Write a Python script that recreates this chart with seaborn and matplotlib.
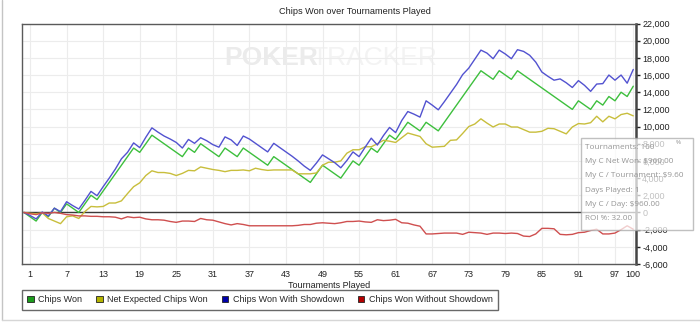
import matplotlib
matplotlib.use("Agg")
import matplotlib.pyplot as plt
import pandas as pd
import seaborn as sns
from matplotlib.patches import Patch, FancyBboxPatch
from matplotlib.lines import Line2D
from matplotlib.ticker import FuncFormatter

# ---- data -------------------------------------------------------------
tournaments = list(range(0, 101))

chips_won = [
    0, -500, -1000, 0, -500, 500, 0, 1000, 500, 0,
    1000, 2000, 1500, 2500, 3500, 4500, 5500, 6500, 7500, 7000,
    8000, 9000, 8500, 8000, 7500, 7000, 6500, 7500, 7000, 8000,
    7500, 7000, 6500, 7500, 7000, 6500, 7500, 7000, 6500, 6000,
    5500, 6500, 6000, 5500, 5000, 4500, 4000, 3500, 4500, 5500,
    5000, 4500, 4000, 5000, 6000, 5500, 6500, 7500, 7000, 8000,
    9000, 8500, 9500, 10500, 10000, 9500, 10500, 10000, 9500, 10500,
    11500, 12500, 13500, 14500, 15500, 16500, 16000, 15500, 16500, 16000,
    15500, 16500, 16000, 15500, 15000, 14500, 14000, 13500, 13000, 12500,
    12000, 13000, 12500, 12000, 13000, 12500, 13500, 13000, 14000, 13500,
    14700,
]

net_expected = [
    0, -100, -150, -50, -700, -1000, -1300, -500, -400, -700,
    100, 700, 650, 700, 1100, 1100, 1350, 2200, 3000, 3450,
    4300, 4850, 4650, 4650, 4550, 4300, 4550, 4900, 4850, 5300,
    5150, 5000, 4900, 4750, 4900, 4900, 4950, 4850, 5150, 5000,
    4900, 4950, 4950, 4950, 4950, 4500, 4500, 4500, 4600, 5500,
    5850, 5850, 6000, 6900, 7300, 7300, 7650, 7650, 8000, 8400,
    8300, 8150, 8700, 9250, 9050, 8850, 8000, 7600, 7650, 7700,
    8400, 8450, 9200, 10000, 10300, 10900, 10400, 9950, 10300, 10300,
    9950, 9950, 9650, 9350, 9350, 9450, 9800, 9750, 9450, 9150,
    9950, 10350, 10300, 10450, 11200, 10550, 11200, 10900, 11400, 11550,
    11250,
]

won_showdown = [
    0, -350, -750, 50, -400, 500, 100, 1250, 800, 400,
    1400, 2450, 1950, 3000, 4000, 5050, 6250, 7000, 8100, 7550,
    8750, 9850, 9350, 8900, 8550, 8150, 7500, 8500, 8050, 8700,
    8350, 7900, 7600, 8800, 8450, 7800, 8900, 8550, 8050, 7550,
    7050, 8050, 7550, 7050, 6550, 6000, 5400, 4900, 5750, 6700,
    6250, 5800, 5200, 6050, 7050, 6500, 7600, 8650, 7850, 8950,
    9900, 9300, 10700, 11750, 11450, 11100, 13000, 12500, 11950, 12900,
    13900, 14900, 16050, 16800, 17850, 18900, 18550, 17900, 18900, 18450,
    17900, 18950, 18750, 18300, 17500, 16350, 15850, 15400, 15550, 15100,
    14550, 15350, 14800, 14100, 14950, 15000, 16000, 15400, 16000, 15050,
    16650,
]

won_no_showdown = [
    0, -150, -250, -50, -100, 0, -100, -250, -300, -400,
    -400, -450, -450, -500, -500, -550, -750, -500, -600, -550,
    -750, -850, -850, -900, -1050, -1150, -1000, -1000, -1050, -700,
    -850, -900, -1100, -1300, -1450, -1300, -1400, -1550, -1550, -1550,
    -1550, -1550, -1550, -1550, -1550, -1500, -1400, -1400, -1250, -1200,
    -1250, -1300, -1200, -1050, -1050, -1000, -1100, -1150, -850, -950,
    -900, -800, -1200, -1250, -1450, -1600, -2500, -2500, -2450, -2400,
    -2400, -2400, -2550, -2300, -2350, -2400, -2550, -2400, -2400, -2450,
    -2400, -2450, -2750, -2800, -2500, -1850, -1850, -1900, -2550, -2600,
    -2550, -2350, -2300, -2100, -1950, -2500, -2500, -2400, -2000, -1550,
    -1950,
]

series_names = [
    "Chips Won",
    "Net Expected Chips Won",
    "Chips Won With Showdown",
    "Chips Won Without Showdown",
]
line_colors = ["#3dbf3d", "#c8be3c", "#5252d0", "#cf4f4f"]
legend_colors = ["#1c9c1c", "#b4b400", "#0000aa", "#b40000"]

x_ticks = [1, 7, 13, 19, 25, 31, 37, 43, 49, 55, 61, 67, 73, 79, 85, 91, 97, 100]
y_ticks = list(range(-6000, 22001, 2000))

tooltip_lines = [
    "Tournaments: 100",
    "My C Net Won: $960.00",
    "My C / Tournament: $9.60",
    "Days Played: 1",
    "My C / Day: $960.00",
    "ROI %: 32.00",
]

# ---- long-form table --------------------------------------------------
frames = []
for name, values in zip(series_names,
                        [chips_won, net_expected, won_showdown, won_no_showdown]):
    frames.append(pd.DataFrame({"Tournament": tournaments,
                                "Chips": values,
                                "Series": name}))
df = pd.concat(frames, ignore_index=True)

# ---- figure -----------------------------------------------------------
sns.set_theme(style="white")
plt.rcParams["font.family"] = ["Liberation Sans", "DejaVu Sans"]

W, H = 700, 329
fig = plt.figure(figsize=(W / 100, H / 100), dpi=100)
fig.patch.set_facecolor("white")

left_px, right_px, top_px, bottom_px = 21.5, 636, 23.5, 264
ax = fig.add_axes([left_px / W, 1 - bottom_px / H,
                   (right_px - left_px) / W, (bottom_px - top_px) / H])
ax.set_facecolor("white")

# watermark behind everything
ax.text(224 / W, 1 - 58 / H, "POKER", transform=fig.transFigure,
        fontsize=19, fontweight="bold", color="#ebebeb",
        ha="left", va="center", zorder=0)
ax.text(437 / W, 1 - 58 / H, "TRACKER", transform=fig.transFigure,
        fontsize=19, color="#f3f3f3",
        ha="right", va="center", zorder=0)

palette = dict(zip(series_names, line_colors))
sns.lineplot(data=df, x="Tournament", y="Chips", hue="Series",
             hue_order=series_names, palette=palette, estimator=None,
             sort=False, linewidth=1.0, legend=False, ax=ax, zorder=3)

ax.set_xlim(-0.4, 100.45)
ax.set_ylim(-6000, 22000)

ax.set_xticks(x_ticks)
ax.set_yticks(y_ticks)
ax.yaxis.tick_right()
ax.yaxis.set_major_formatter(FuncFormatter(lambda v, p: f"{int(v):,}"))

ax.grid(True, color="#ececec", linewidth=0.8)
ax.set_axisbelow(True)
ax.axhline(0, color="#3a3a3a", linewidth=1.0, zorder=2)

ax.tick_params(axis="x", length=0, pad=4, labelsize=6.5, colors="#222222")
ax.tick_params(axis="y", right=True, left=False, length=3, width=1,
               pad=1.5, labelsize=6.5, colors="#222222")

for side, sp in ax.spines.items():
    sp.set_visible(True)
    sp.set_color("#5a5a5a")
    sp.set_linewidth(1.0)
ax.spines["right"].set_linewidth(1.8)
ax.spines["right"].set_color("#444444")

ax.set_xlabel("Tournaments Played", fontsize=6.5, labelpad=2, color="#222222")
ax.set_ylabel("")

fig.text(355 / W, 1 - 12 / H, "Chips Won over Tournaments Played",
         ha="center", va="center", fontsize=6.6, color="#222222")

# legend with square swatches
handles = [Patch(facecolor=c, edgecolor="#222222", linewidth=0.6)
           for c in legend_colors]
leg = fig.legend(handles, series_names, loc="upper left",
                 bbox_to_anchor=(22 / W, 1 - 290 / H), ncol=4,
                 fontsize=6.5, frameon=True, fancybox=False,
                 handlelength=0.7, handleheight=0.7, handletextpad=0.5,
                 columnspacing=1.55, borderpad=0.6, borderaxespad=0)
leg.get_frame().set_edgecolor("#444444")
leg.get_frame().set_linewidth(1.0)

# summary box on the right
box = FancyBboxPatch((581 / W, 1 - 230 / H), 112 / W, 92 / H,
                     boxstyle="square,pad=0", transform=fig.transFigure,
                     facecolor="white", edgecolor="#a8a8a8",
                     linewidth=1.0, alpha=0.72, zorder=10)
fig.add_artist(box)
for i, line in enumerate(tooltip_lines):
    fig.text(585 / W, 1 - (147.5 + i * 14.2) / H, line,
             ha="left", va="center", fontsize=5.9, color="#959595",
             family=["Open Sans", "DejaVu Sans"], zorder=11)
fig.text(678 / W, 1 - 143 / H, "%", ha="center", va="center",
         fontsize=4, color="#8a8a8a", zorder=11)

# outer frame of the panel
fig.add_artist(Line2D([1.5 / W, 1.5 / W], [1, 1 - 320 / H],
                      transform=fig.transFigure, color="#c4c4c4", lw=1))
fig.add_artist(Line2D([1.5 / W, 1], [1 - 320 / H, 1 - 320 / H],
                      transform=fig.transFigure, color="#d6d6d6", lw=1))

fig.savefig("out.png", dpi=100, facecolor="white")
